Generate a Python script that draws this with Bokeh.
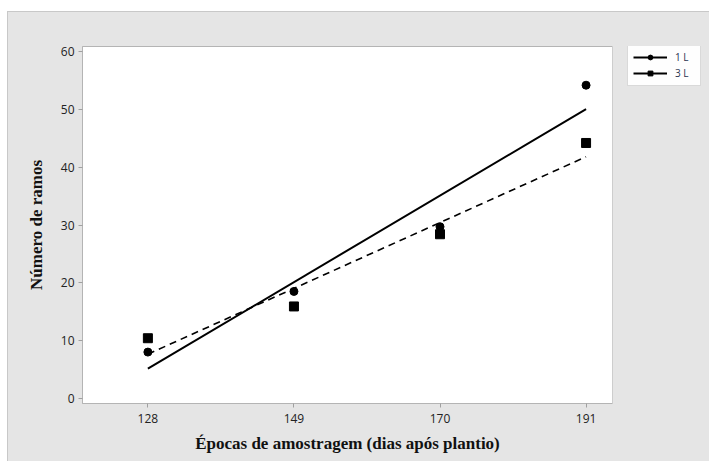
import numpy as np
from bokeh.plotting import figure
from bokeh.layouts import row
from bokeh.models import Legend, LegendItem, FixedTicker, Range1d
from bokeh.embed import file_html
from bokeh.resources import INLINE

days = [128, 149, 170, 191]
ramos_1L = [8.0, 18.5, 29.7, 54.2]
ramos_3L = [10.4, 15.9, 28.4, 44.2]
y_ticks = [0, 10, 20, 30, 40, 50, 60]
series_names = ["1 L", "3 L"]

GRAY = "#e5e5e5"

p = figure(width=605, height=449, output_backend="svg", toolbar_location=None,
           x_range=Range1d(118.6, 194.8), y_range=Range1d(-0.9, 60.9),
           min_border_left=74, min_border_right=1, min_border_top=34, min_border_bottom=58)
p.border_fill_color = GRAY
p.background_fill_color = "white"
p.outline_line_color = "#b4b4b4"
p.xgrid.visible = False
p.ygrid.visible = False

for ax in (p.xaxis[0], p.yaxis[0]):
    ax.axis_line_color = "#b4b4b4"
    ax.major_tick_line_color = "#a0a0a0"
    ax.major_tick_out = 4
    ax.major_tick_in = 0
    ax.minor_tick_line_color = None
    ax.major_label_text_font = "Open Sans"
    ax.major_label_text_font_size = "12px"
    ax.major_label_text_color = "#222222"
    ax.axis_label_text_font = "Liberation Serif"
    ax.axis_label_text_font_style = "bold"
    ax.axis_label_text_font_size = "17px"
    ax.axis_label_text_color = "#111111"

p.xaxis.ticker = FixedTicker(ticks=days)
p.yaxis.ticker = FixedTicker(ticks=y_ticks)
p.xaxis.axis_label = "Épocas de amostragem (dias após plantio)"
p.yaxis.axis_label = "Número de ramos"
p.xaxis.major_label_standoff = 6
p.yaxis.major_label_standoff = 4
p.xaxis.axis_label_standoff = 8
p.yaxis.axis_label_standoff = 12

x = np.array(days, dtype=float)
xs_fit = np.array([days[0], days[-1]], dtype=float)
c1 = np.polyfit(x, ramos_1L, 1)
c3 = np.polyfit(x, ramos_3L, 1)

p.line(xs_fit, np.polyval(c1, xs_fit), line_color="black", line_width=2)
p.line(xs_fit, np.polyval(c3, xs_fit), line_color="black", line_width=1.6, line_dash="7 5")
p.scatter(days, ramos_1L, marker="circle", size=8, color="black")
p.scatter(days, ramos_3L, marker="square", size=9, color="black")

# Legend panel (separate figure so the legend is not clipped by the main frame)
pl = figure(width=97, height=449, output_backend="svg", toolbar_location=None,
            x_range=Range1d(0, 1), y_range=Range1d(0, 1),
            min_border_left=0, min_border_right=0, min_border_top=34, min_border_bottom=58)
pl.axis.visible = False
pl.grid.visible = False
pl.outline_line_color = None
pl.background_fill_color = GRAY
pl.border_fill_color = GRAY
pl.styles = {"margin-left": "-1px"}

lg1 = pl.line([5, 6], [5, 5], line_color="black", line_width=2)
lm1 = pl.scatter([5], [5], marker="circle", size=8, color="black")
lg3 = pl.line([5, 6], [5, 5], line_color="black", line_width=2)
lm3 = pl.scatter([5], [5], marker="square", size=9, color="black")

legend = Legend(items=[LegendItem(label=series_names[0], renderers=[lg1, lm1]),
                       LegendItem(label=series_names[1], renderers=[lg3, lm3])],
                location=(15, 317))
legend.border_line_color = "#b4b4b4"
legend.background_fill_color = "white"
legend.label_text_font = "Open Sans"
legend.label_text_font_size = "10px"
legend.label_text_color = "#2a3350"
legend.glyph_width = 34
legend.glyph_height = 12
legend.label_height = 12
legend.spacing = 2
legend.padding = 5
legend.margin = 0
legend.label_standoff = 8
pl.add_layout(legend, "center")

layout = row(p, pl, spacing=0)
layout.styles = {"margin-left": "7px", "margin-top": "11px",
                 "border-top": "1px solid #c8c8c8", "border-left": "1px solid #c8c8c8",
                 "background-color": GRAY}

open("out.html", "w").write(file_html(layout, INLINE))
